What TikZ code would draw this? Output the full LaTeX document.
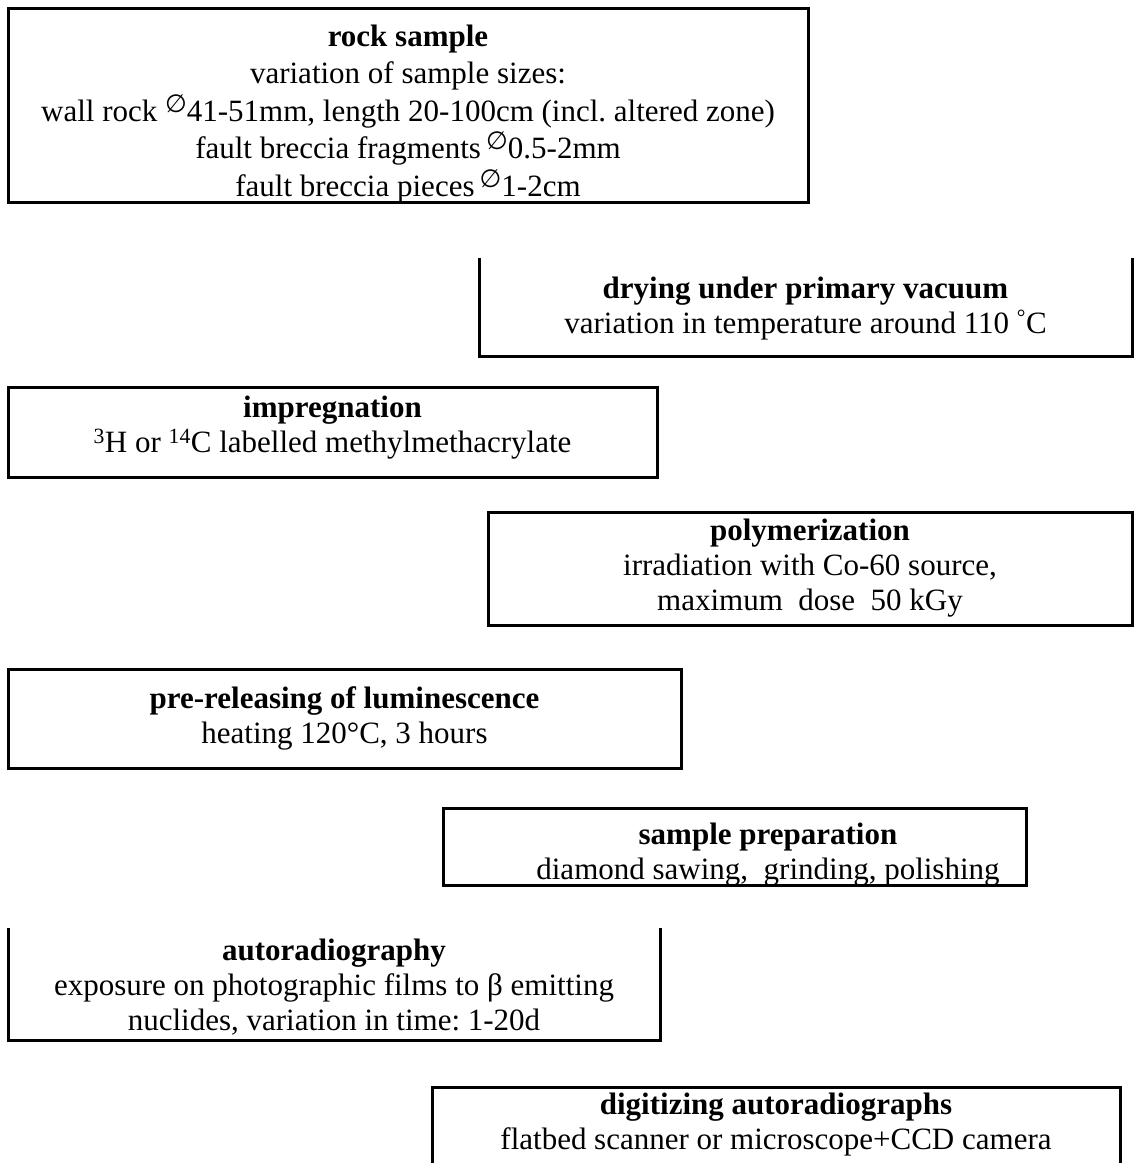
\documentclass[tikz,border=0pt]{standalone}
\usepackage{amsmath,amssymb}
\usepackage{fontspec}
\setmainfont{Liberation Serif}
\newfontfamily\symbfont{DejaVu Sans}
\usetikzlibrary{positioning}
\frenchspacing

\newcommand{\diam}{\raisebox{.3em}{\symbfont\fontsize{25}{25}\selectfont ∅}}

\begin{document}
\begin{tikzpicture}[x=1pt, y=-1pt, font=\fontsize{31}{35}\selectfont,
    box/.style={inner sep=0pt, align=center},
    frame/.style={line width=3pt}]
    \useasboundingbox[fill=white] (0,0) rectangle (1134,1163);
    \node[box, font=\fontsize{31}{37.5}\selectfont] (rock) at (408,114)
        {\textbf{rock sample}\\ variation of sample sizes:\\ wall rock \diam41-51mm, length 20-100cm (incl. altered zone)\\ fault breccia fragments\,\diam0.5-2mm\\ fault breccia pieces\,\diam1-2cm};
    \node[box] (dry) at (805.5,309)
        {\textbf{drying under primary vacuum}\\ variation in temperature around 110 \textsuperscript{°}C};
    \node[box] (impr) at (332.5,428)
        {\textbf{impregnation}\\ \textsuperscript{3}H or \textsuperscript{14}C labelled methylmethacrylate};
    \node[box] (poly) at (810,568.5)
        {\textbf{polymerization}\\ irradiation with Co-60 source,\\ maximum\ \ dose\ \ 50 kGy};
    \node[box] (prerel) at (344.5,718.5)
        {\textbf{pre-releasing of luminescence}\\ heating 120°C, 3 hours};
    \node[box] (prep) at (768,855)
        {\textbf{sample preparation}\\ diamond sawing,\ \ grinding, polishing};
    \node[box] (autorad) at (334,987)
        {\textbf{autoradiography}\\ exposure on photographic films to β emitting\\ nuclides, variation in time: 1-20d};
    \node[box] (digit) at (776,1125)
        {\textbf{digitizing autoradiographs}\\ flatbed scanner or microscope+CCD camera};

    % frames, some sides are open
    \draw[frame] (8,8) rectangle (808,202);
    \draw[frame] (479,258) |- (1132,356) -- (1132,258);
    \draw[frame] (8,387) rectangle (657,477);
    \draw[frame] (488,512) rectangle (1132,625);
    \draw[frame] (8,669) rectangle (681,768);
    \draw[frame] (443,808) rectangle (1026,885);
    \draw[frame] (8,928) |- (660,1040) -- (660,928);
    \draw[frame] (432,1163) |- (1120,1087) -- (1120,1163);
\end{tikzpicture}
\end{document}
